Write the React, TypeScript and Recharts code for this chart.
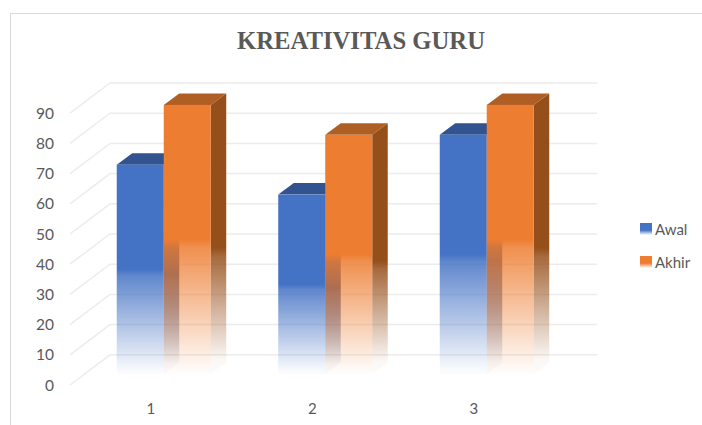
import React from "react";
import { BarChart, Bar, XAxis, YAxis, CartesianGrid, Legend } from "recharts";

const categories = ["1", "2", "3"];
const awal = [70, 60, 80];
const akhir = [90, 80, 90];
const yTicks = [0, 10, 20, 30, 40, 50, 60, 70, 80, 90];
const seriesNames = ["Awal", "Akhir"];

const rows = categories.map((c, i) => ({ category: c, Awal: awal[i], Akhir: akhir[i] }));

const DX = 15.5;
const DY = 11.5;
const SHIFT = 12.5;
const LIFT = 11;
const FRONT_SCALE = 0.99;

const palette: Record<string, { id: string; front: string; top: string; side: string }> = {
  Awal: { id: "blue", front: "#4472C4", top: "#31538F", side: "#2F5290" },
  Akhir: { id: "orange", front: "#ED7D31", top: "#B05F24", side: "#954F1A" },
};

const Box = (key: string) => (props: any) => {
  const { x, y: rawY, width, height: rawH } = props;
  const p = palette[key];
  const L = x + SHIFT;
  const R = L + width;
  const B = rawY + rawH - LIFT;
  const height = rawH * FRONT_SCALE;
  const y = B - height;
  return (
    <g>
      <polygon
        points={`${L},${y} ${L + DX},${y - DY} ${R + DX},${y - DY} ${R},${y}`}
        fill={p.top}
      />
      <polygon
        points={`${R},${y} ${R + DX},${y - DY} ${R + DX},${B - DY} ${R},${B}`}
        fill={`url(#${p.id}Side)`}
      />
      <rect x={L} y={y} width={width} height={height} fill={`url(#${p.id}Front)`} />
    </g>
  );
};

const Grid = (props: any) => {
  const { x1, x2, y1 } = props;
  return (
    <g stroke="#ECECEC" strokeWidth={1.5} fill="none">
      <polyline points={`${x1},${y1} ${x1 + 40},${y1 - 30.2} ${x2 + 42.5},${y1 - 30.2}`} />
    </g>
  );
};

const stops = (color: string, start: number, end: number) => (
  <>
    <stop offset="0" stopColor={color} stopOpacity={1} />
    <stop offset={start} stopColor={color} stopOpacity={1} />
    <stop offset={start + 0.03} stopColor={color} stopOpacity={0.85} />
    <stop offset={end} stopColor={color} stopOpacity={0.04} />
    <stop offset="1" stopColor={color} stopOpacity={0.02} />
  </>
);

const LegendBox = () => (
  <div style={{ fontFamily: "Lato", fontSize: 15, color: "#595959" }}>
    {seriesNames.map((n) => (
      <div key={n} style={{ display: "flex", alignItems: "center", height: 33.5 }}>
        <span
          style={{
            width: 12,
            height: 12,
            marginRight: 3,
            background: `linear-gradient(to bottom, ${palette[n].front} 0%, ${palette[n].front} 60%, #ffffff 100%)`,
          }}
        />
        {n}
      </div>
    ))}
  </div>
);

export default function App() {
  return (
    <div style={{ position: "fixed", left: 0, top: 0, width: 702, height: 425, background: "#fff", overflow: "hidden" }}>
      <div
        style={{
          position: "absolute",
          left: 10,
          top: 13,
          width: 692,
          height: 412,
          borderLeft: "1.5px solid #D9D9D9",
          borderTop: "1.5px solid #D9D9D9",
          boxSizing: "border-box",
        }}
      />
      <div
        style={{
          position: "absolute",
          left: 10,
          width: 702,
          top: 27,
          textAlign: "center",
          fontFamily: "Liberation Serif",
          fontWeight: 700,
          fontSize: 24.7,
          lineHeight: "28px",
          color: "#595959",
        }}
      >
        KREATIVITAS GURU
      </div>
      <div style={{ position: "absolute", left: 0, top: 0 }}>
        <BarChart
          width={702}
          height={425}
          data={rows}
          margin={{ top: 83, right: 87.5, bottom: 0, left: 20 }}
          barCategoryGap="21.2%"
          barGap={0}
        >
          <defs>
            <linearGradient id="blueFront" x1="0" y1="0" x2="0" y2="1">{stops("#4472C4", 0.5, 0.98)}</linearGradient>
            <linearGradient id="orangeFront" x1="0" y1="0" x2="0" y2="1">{stops("#ED7D31", 0.5, 0.98)}</linearGradient>
            <linearGradient id="blueSide" x1="0" y1="0" x2="0" y2="1">{stops("#2F5290", 0.55, 0.95)}</linearGradient>
            <linearGradient id="orangeSide" x1="0" y1="0" x2="0" y2="1">{stops("#954F1A", 0.55, 0.95)}</linearGradient>
          </defs>
          <CartesianGrid vertical={false} horizontal={Grid as any} syncWithTicks />
          <XAxis
            dataKey="category"
            axisLine={false}
            tickLine={false}
            height={40}
            tickMargin={12}
            tick={{ fontFamily: "Lato", fontSize: 15, fill: "#595959" }}
          />
          <YAxis
            width={50}
            domain={[0, 100]}
            ticks={yTicks}
            interval={0}
            axisLine={false}
            tickLine={false}
            tickMargin={10}
            tick={{ fontFamily: "Lato", fontSize: 15.5, fill: "#595959" }}
          />
          <Bar dataKey="Awal" isAnimationActive={false} shape={Box("Awal")} />
          <Bar dataKey="Akhir" isAnimationActive={false} shape={Box("Akhir")} />
          <Legend
            layout="vertical"
            align="right"
            verticalAlign="top"
            content={<LegendBox />}
            wrapperStyle={{ left: 640, top: 212, width: 60, right: "auto", bottom: "auto" }}
          />
        </BarChart>
      </div>
    </div>
  );
}
